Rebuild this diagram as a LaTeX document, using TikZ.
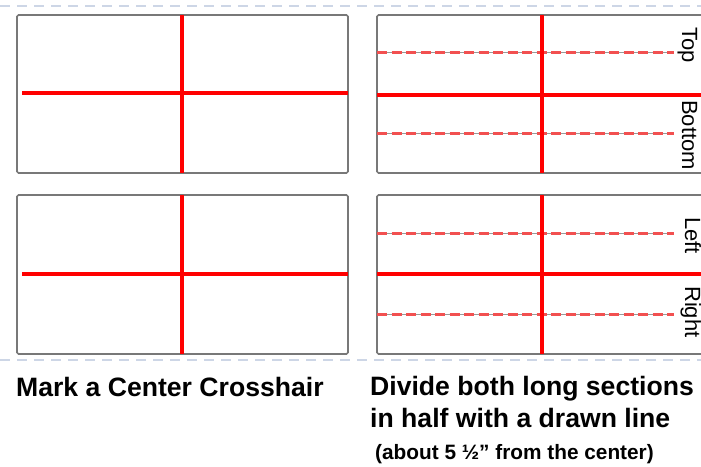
\documentclass[tikz,border=0pt]{standalone}
\usepackage{fontspec}
\setmainfont{Liberation Sans}
\usepackage{tikz}
\usetikzlibrary{positioning}
\definecolor{boxgray}{RGB}{120,120,120}
\definecolor{halfred}{RGB}{242,80,80}
\definecolor{sepblue}{RGB}{205,214,230}
\tikzset{
  frame/.style={draw=boxgray, line width=1.6pt, rounded corners=1.5pt},
  cross/.style={draw=red, line width=4.2pt},
  guide/.style={draw=gray!80, line width=1pt},
  half/.style={draw=halfred, line width=3pt, dash pattern=on 10pt off 4.5pt},
  sep/.style={draw=sepblue, line width=1.3pt, dash pattern=on 10pt off 7pt},
  side/.style={rotate=-90, anchor=base west, fill=white, inner sep=1pt, font=\fontsize{22}{24}\selectfont},
  capline/.style={anchor=base west, inner sep=0pt, font=\bfseries\fontsize{26.6}{30}\selectfont},
  note/.style={anchor=base west, inner sep=0pt, font=\bfseries\fontsize{20.8}{22}\selectfont}
}

\begin{document}
\begin{tikzpicture}[x=1pt, y=-1pt]
    \useasboundingbox (0,0) rectangle (701,466);
    \clip (0,0) rectangle (701,466);

    % Separators
    \foreach \y in {6, 360} {
        \draw[sep] (0,\y) -- (701,\y);
    }

    % === Left panel: center crosshair ===
    \foreach \yt/\yb/\yc in {15/173/93, 195/354/274} {
        \draw[frame] (17,\yt) rectangle (348,\yb);
        \draw[cross] (182,\yt) -- (182,\yb);
        \draw[cross] (22,\yc) -- (348,\yc);
    }
    \node[capline] (markcap) at (16,396) {Mark a Center Crosshair};

    % === Right panel: long sections halved ===
    \begin{scope}[xshift=360pt]
    \foreach \yt/\yb/\yc/\ya/\yd in {15/173/95/52/133, 195/354/274/233/314} {
        \draw[frame] (17,\yt) rectangle (380,\yb);
        \foreach \y in {\ya, \yd} {
            \draw[guide] (17,\y) -- (314,\y);
            \draw[half] (17,\y) -- (314,\y);
        }
        \draw[cross] (182,\yt) -- (182,\yb);
        \draw[cross] (17,\yc) -- (380,\yc);
    }

    % Side labels
    \node[side] (toplbl) at (322,26) {Top};
    \node[side] (bottomlbl) at (322,99) {Bottom};
    \node[side] (leftlbl) at (325,216) {Left};
    \node[side] (rightlbl) at (325,285) {Right};

    \node[capline] (dividecap) at (10,395) {Divide both long sections};
    \node[capline] (halfcap) at (10,427) {in half with a drawn line};
    \node[note] (aboutnote) at (15,459) {(about 5 ½” from the center)};
    \end{scope}

\end{tikzpicture}
\end{document}
